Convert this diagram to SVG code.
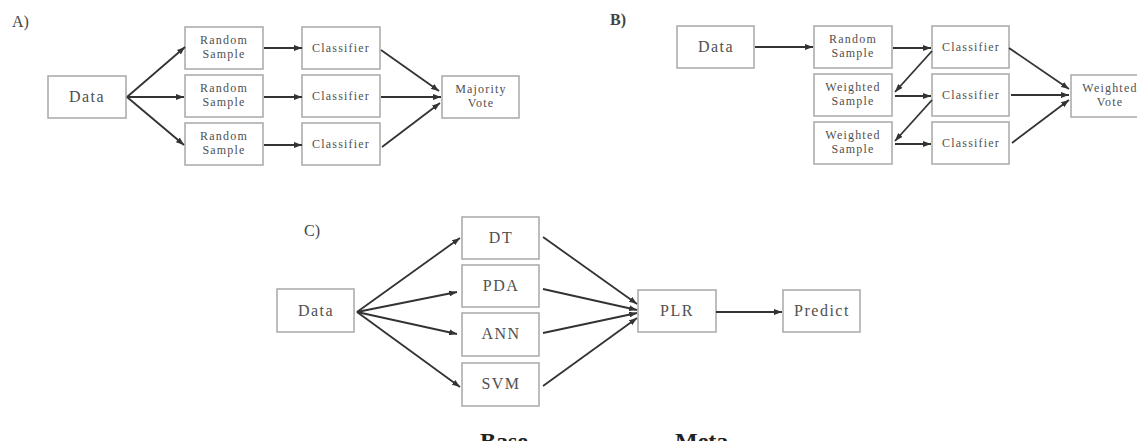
<svg xmlns="http://www.w3.org/2000/svg" width="1137" height="441" viewBox="0 0 1137 441">
<style>
.box{fill:#fff;stroke:#a8a8a8;stroke-width:1.5}
.t{font-family:"Liberation Serif",serif;fill:#505050;text-anchor:middle}
.s{font-size:12px;letter-spacing:1.2px}
.l{font-size:16px;letter-spacing:1.5px}
.lab{font-family:"Liberation Serif",serif;fill:#444;font-size:16px}
.big{font-family:"Liberation Serif",serif;fill:#222;font-size:24px;font-weight:bold}
.c line{stroke:#333;stroke-width:1.8;marker-end:url(#ah)}
</style>
<defs>
<marker id="ah" markerUnits="userSpaceOnUse" markerWidth="8" markerHeight="6" refX="8" refY="3" orient="auto">
<path d="M0,0 L8,3 L0,6 z" fill="#333"/>
</marker>
</defs>
<rect width="1137" height="441" fill="#fff"/>
<text class="lab" x="12" y="27">A)</text>
<text class="lab" x="610" y="25" font-weight="bold">B)</text>
<text class="lab" x="304" y="236">C)</text>

<g id="A-data"><rect class="box" x="48" y="76" width="78" height="42"/><text class="t l" x="87" y="102">Data</text></g>
<g id="A-rs1"><rect class="box" x="185" y="27" width="78" height="42"/><text class="t s" x="224" y="44">Random</text><text class="t s" x="224" y="58">Sample</text></g>
<g id="A-rs2"><rect class="box" x="185" y="75" width="78" height="42"/><text class="t s" x="224" y="92">Random</text><text class="t s" x="224" y="106">Sample</text></g>
<g id="A-rs3"><rect class="box" x="185" y="123" width="78" height="42"/><text class="t s" x="224" y="140">Random</text><text class="t s" x="224" y="154">Sample</text></g>
<g id="A-c1"><rect class="box" x="302" y="27" width="78" height="42"/><text class="t s" x="341" y="52">Classifier</text></g>
<g id="A-c2"><rect class="box" x="302" y="75" width="78" height="42"/><text class="t s" x="341" y="100">Classifier</text></g>
<g id="A-c3"><rect class="box" x="302" y="123" width="78" height="42"/><text class="t s" x="341" y="148">Classifier</text></g>
<g id="A-mv"><rect class="box" x="442" y="76" width="77" height="42"/><text class="t s" x="481" y="93">Majority</text><text class="t s" x="481" y="107">Vote</text></g>

<g id="B-data"><rect class="box" x="677" y="26" width="77" height="42"/><text class="t l" x="716" y="52">Data</text></g>
<g id="B-rs"><rect class="box" x="814" y="26" width="78" height="42"/><text class="t s" x="853" y="43">Random</text><text class="t s" x="853" y="57">Sample</text></g>
<g id="B-ws1"><rect class="box" x="814" y="74" width="78" height="42"/><text class="t s" x="853" y="91">Weighted</text><text class="t s" x="853" y="105">Sample</text></g>
<g id="B-ws2"><rect class="box" x="814" y="122" width="78" height="42"/><text class="t s" x="853" y="139">Weighted</text><text class="t s" x="853" y="153">Sample</text></g>
<g id="B-c1"><rect class="box" x="932" y="26" width="77" height="42"/><text class="t s" x="971" y="51">Classifier</text></g>
<g id="B-c2"><rect class="box" x="932" y="74" width="77" height="42"/><text class="t s" x="971" y="99">Classifier</text></g>
<g id="B-c3"><rect class="box" x="932" y="122" width="77" height="42"/><text class="t s" x="971" y="147">Classifier</text></g>
<g id="B-wv"><rect class="box" x="1071" y="75" width="77" height="42"/><text class="t s" x="1110" y="92">Weighted</text><text class="t s" x="1110" y="106">Vote</text></g>

<g id="C-data"><rect class="box" x="277" y="289" width="77" height="43"/><text class="t l" x="316" y="316">Data</text></g>
<g id="C-dt"><rect class="box" x="462" y="217" width="77" height="42"/><text class="t l" x="501" y="243">DT</text></g>
<g id="C-pda"><rect class="box" x="462" y="265" width="77" height="42"/><text class="t l" x="501" y="291">PDA</text></g>
<g id="C-ann"><rect class="box" x="462" y="313" width="77" height="43"/><text class="t l" x="501" y="339">ANN</text></g>
<g id="C-svm"><rect class="box" x="462" y="363" width="77" height="43"/><text class="t l" x="501" y="389">SVM</text></g>
<g id="C-plr"><rect class="box" x="638" y="290" width="78" height="42"/><text class="t l" x="677" y="316">PLR</text></g>
<g id="C-pred"><rect class="box" x="783" y="290" width="77" height="42"/><text class="t l" x="822" y="316">Predict</text></g>
<text class="big" x="480" y="449">Base</text>
<text class="big" x="675" y="449">Meta</text>

<g id="connectors" class="c">
<line x1="127" y1="97" x2="185" y2="47"/>
<line x1="127" y1="97" x2="184" y2="97"/>
<line x1="127" y1="97" x2="184" y2="145"/>
<line x1="264" y1="48" x2="302" y2="48"/>
<line x1="264" y1="97" x2="302" y2="97"/>
<line x1="264" y1="145" x2="302" y2="145"/>
<line x1="381" y1="50" x2="439" y2="91"/>
<line x1="381" y1="97" x2="441" y2="97"/>
<line x1="382" y1="147" x2="440" y2="103"/>

<line x1="755" y1="47" x2="813" y2="47"/>
<line x1="893" y1="48" x2="931" y2="48"/>
<line x1="932" y1="51" x2="895" y2="92"/>
<line x1="895" y1="96" x2="931" y2="96"/>
<line x1="932" y1="100" x2="895" y2="141"/>
<line x1="895" y1="144" x2="931" y2="144"/>
<line x1="1009" y1="48" x2="1069" y2="89"/>
<line x1="1011" y1="95" x2="1069" y2="95"/>
<line x1="1012" y1="143" x2="1069" y2="100"/>

<line x1="357" y1="312" x2="460" y2="238"/>
<line x1="357" y1="312" x2="457" y2="292"/>
<line x1="357" y1="312" x2="457" y2="334"/>
<line x1="357" y1="312" x2="460" y2="387"/>
<line x1="543" y1="237" x2="637" y2="304"/>
<line x1="543" y1="289" x2="637" y2="310"/>
<line x1="543" y1="333" x2="637" y2="313"/>
<line x1="543" y1="386" x2="637" y2="318"/>
<line x1="716" y1="312" x2="782" y2="312"/>
</g>
</svg>
